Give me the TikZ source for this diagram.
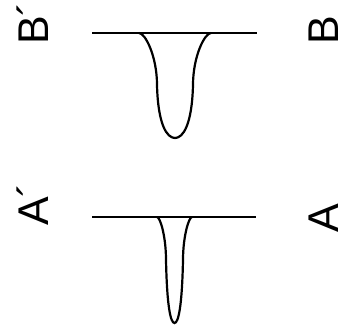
\documentclass[tikz,border=0pt]{standalone}
\usepackage{fontspec}
\setmainfont{Liberation Sans}

% #1 centre, #2 top, #3 half width at top, #4 half width of the walls,
% #5 depth of the walls, #6 depth of the tip
\newcommand{\trough}[6]{
    \draw[profile]
      ({#1-#3},#2) .. controls ({#1-#3+0.35*(#3-#4)},#2) and ({#1-#4},{#2+0.45*#5}) .. ({#1-#4},{#2+#5})
      .. controls ({#1-#4+1},{#2+#5+0.75*(#6-#5)}) and ({#1-0.45*#4},{#2+#6}) .. (#1,{#2+#6})
      .. controls ({#1+0.45*#4},{#2+#6}) and ({#1+#4-1},{#2+#5+0.75*(#6-#5)}) .. ({#1+#4},{#2+#5})
      .. controls ({#1+#4},{#2+0.45*#5}) and ({#1+#3-0.35*(#3-#4)},#2) .. ({#1+#3},#2);
}

\begin{document}
\begin{tikzpicture}[x=1pt,y=-1pt,
    profile/.style={line width=2.2pt},
    cut/.style={rotate=90,anchor=base west,inner sep=0pt,text depth=0pt,
      font=\fontsize{43}{50}\selectfont}]
  \useasboundingbox (0,0) rectangle (345,329);

  % section B
  \draw[profile] (92,33) -- (257,33);
  \trough{175}{33}{36}{18}{52}{105}
  \node[cut] (bl) at (48,45) {B´};
  \node[cut] (br) at (338,45) {B};

  % section A
  \draw[profile] (92,217) -- (256,217);
  \trough{174.5}{217}{17.5}{8.5}{43}{106}
  \node[cut] (al) at (48,226) {A´};
  \node[cut] (ar) at (338,233) {A};

\end{tikzpicture}
\end{document}
